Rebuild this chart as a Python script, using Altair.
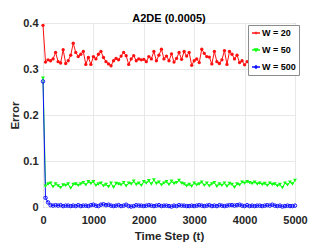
import altair as alt
import pandas as pd

series = ["W = 20", "W = 50", "W = 500"]
colors = ["#ff1010", "#10ff10", "#1010ff"]

err_w20 = [0.395, 0.315, 0.32, 0.318, 0.322, 0.336, 0.316, 0.313, 0.342, 0.312,
           0.318, 0.33, 0.356, 0.336, 0.327, 0.332, 0.338, 0.31, 0.325, 0.31,
           0.327, 0.322, 0.332, 0.338, 0.325, 0.316, 0.311, 0.307, 0.318, 0.323,
           0.32, 0.328, 0.336, 0.329, 0.31, 0.322, 0.329, 0.318, 0.322, 0.32,
           0.321, 0.316, 0.327, 0.322, 0.338, 0.318, 0.33, 0.343, 0.322, 0.328,
           0.318, 0.333, 0.315, 0.323, 0.336, 0.321, 0.338, 0.328, 0.336, 0.308,
           0.318, 0.322, 0.314, 0.343, 0.334, 0.327, 0.326, 0.311, 0.338, 0.316,
           0.312, 0.32, 0.34, 0.31, 0.338, 0.332, 0.322, 0.33, 0.314, 0.318,
           0.309, 0.316, 0.312, 0.322, 0.318, 0.328, 0.32, 0.325, 0.316, 0.33,
           0.322, 0.318, 0.327, 0.32, 0.332, 0.318, 0.325, 0.33, 0.322, 0.34,
           0.35]
err_w50 = [0.28, 0.045, 0.05, 0.052, 0.044, 0.05, 0.046, 0.042, 0.048, 0.047,
           0.05, 0.041, 0.049, 0.05, 0.047, 0.05, 0.053, 0.048, 0.055, 0.051,
           0.055, 0.047, 0.05, 0.052, 0.046, 0.049, 0.044, 0.052, 0.043, 0.051,
           0.05, 0.048, 0.053, 0.046, 0.052, 0.05, 0.056, 0.049, 0.052, 0.047,
           0.055, 0.052, 0.057, 0.05, 0.059, 0.051, 0.054, 0.048, 0.052, 0.055,
           0.049, 0.056, 0.051, 0.053, 0.058, 0.052, 0.05, 0.046, 0.049, 0.045,
           0.052, 0.048, 0.05, 0.054, 0.047, 0.052, 0.046, 0.05, 0.053, 0.045,
           0.05, 0.047, 0.052, 0.045, 0.051, 0.049, 0.043, 0.05, 0.048, 0.054,
           0.052, 0.055, 0.053, 0.051, 0.054, 0.05, 0.052, 0.049, 0.051, 0.047,
           0.052, 0.049, 0.05, 0.046, 0.049, 0.042, 0.052, 0.048, 0.054, 0.05,
           0.058]
err_w500 = [0.273, 0.02, 0.01, 0.004, 0.003, 0.004, 0.003, 0.004, 0.002, 0.003,
            0.003, 0.002, 0.003, 0.002, 0.004, 0.002, 0.003, 0.003, 0.002, 0.004,
            0.005, 0.003, 0.002, 0.005, 0.006, 0.004, 0.005, 0.003, 0.002, 0.003,
            0.004, 0.002, 0.003, 0.005, 0.002, 0.001, 0.002, 0.004, 0.003, 0.003,
            0.002, 0.003, 0.004, 0.003, 0.002, 0.003, 0.004, 0.002, 0.003, 0.003,
            0.002, 0.001, 0.003, 0.002, 0.004, 0.003, 0.003, 0.002, 0.002, 0.003,
            0.002, 0.003, 0.004, 0.003, 0.002, 0.003, 0.004, 0.002, 0.003, 0.002,
            0.004, 0.003, 0.002, 0.003, 0.004, 0.004, 0.003, 0.004, 0.005, 0.003,
            0.002, 0.004, 0.002, 0.003, 0.002, 0.003, 0.003, 0.002, 0.003, 0.004,
            0.003, 0.005, 0.003, 0.002, 0.003, 0.001, 0.002, 0.003, 0.002, 0.002,
            0.003]

x_ticks = [0, 1000, 2000, 3000, 4000, 5000]
y_ticks = [0, 0.1, 0.2, 0.3, 0.4]

rows = []
for name, vals in zip(series, [err_w20, err_w50, err_w500]):
    for i, v in enumerate(vals):
        rows.append({"t": 50 * i, "err": v, "W": name})
df = pd.DataFrame(rows)

FONT = "Liberation Sans"

xenc = alt.X("t:Q", scale=alt.Scale(domain=[0, 5000], nice=False),
             axis=alt.Axis(values=x_ticks, title="Time Step (t)", format="d"))
yenc = alt.Y("err:Q", scale=alt.Scale(domain=[0, 0.4], nice=False),
             axis=alt.Axis(values=y_ticks, title="Error",
                           labelExpr="datum.value == 0 ? '0' : format(datum.value, '.1f')"))

base = alt.Chart(df)
marker_shape = ["circle", "triangle-down", "circle"]
marker_fill = [True, True, False]
marker_size = [11, 15, 12]

layers = []
for name, col in zip(series, colors):
    layers.append(base.transform_filter(alt.datum.W == name)
                  .mark_line(strokeWidth=1, color=col)
                  .encode(x=xenc, y=yenc))
for name, col, shp, fl, sz in zip(series, colors, marker_shape, marker_fill, marker_size):
    layers.append(base.transform_filter(alt.datum.W == name)
                  .mark_point(shape=shp, filled=fl, color=col, size=sz,
                              strokeWidth=1, opacity=1)
                  .encode(x=xenc, y=yenc))

legend_paths = [
    "M-1,0H1M0,-0.3V0.3M-0.3,0H0.3",
    "M-1,0H1M-0.35,-0.3L0.35,-0.3L0,0.3Z",
    "M-1,0H1M0,-0.35L0.35,0L0,0.35L-0.35,0Z",
]
leg = alt.Legend(title=None, orient="none", legendX=205, legendY=2,
                 fillColor="white", strokeColor="#8c8c8c", padding=3,
                 labelFont=FONT, labelFontWeight="bold", labelFontSize=9,
                 labelColor="black", symbolSize=64, symbolStrokeWidth=1.3,
                 rowPadding=7, labelOffset=1, cornerRadius=0)
legend_layer = (base.transform_filter("false")
                .mark_point(filled=False, strokeWidth=1.3, opacity=1)
                .encode(x=xenc, y=yenc,
                        color=alt.Color("W:N", scale=alt.Scale(domain=series, range=colors), legend=leg),
                        shape=alt.Shape("W:N", scale=alt.Scale(domain=series, range=legend_paths), legend=leg)))
layers.append(legend_layer)

chart = (alt.layer(*layers)
         .properties(width=252, height=184,
                     title=alt.TitleParams("A2DE (0.0005)", font=FONT, fontSize=11,
                                           fontWeight="bold", color="black", offset=2, dy=9),
                     autosize=alt.AutoSizeParams(type="none"),
                     padding={"left": 35, "top": 15, "right": 20, "bottom": 37})
         .configure_view(stroke="#a0a0a0", strokeWidth=1)
         .configure_axis(domain=False, ticks=False, grid=True, gridColor="#e8e8e8",
                         gridWidth=1, labelFont=FONT, labelFontWeight="bold",
                         labelFontSize=11, labelColor="#262626", labelFlush=False,
                         titleFont=FONT, titleFontWeight="bold", titleFontSize=11.5,
                         titleColor="#262626")
         .configure_axisX(labelPadding=7, titlePadding=5)
         .configure_axisY(labelPadding=5, titlePadding=2))

chart.save("out.html", embed_options={"renderer": "svg", "actions": False})
